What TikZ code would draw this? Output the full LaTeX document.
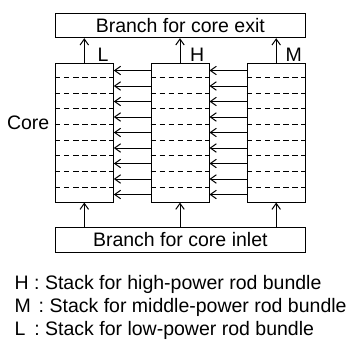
\documentclass[tikz,border=0pt]{standalone}
\usepackage{fontspec}
\setmainfont{Liberation Sans}
\usetikzlibrary{arrows.meta}
\begin{document}
\begin{tikzpicture}[x=1pt,y=-1pt,
  font=\fontsize{19.5}{23}\selectfont,
  box/.style={draw,line width=1pt,inner sep=0pt},
  stackbox/.style={draw,line width=1pt,minimum width=58pt,minimum height=138.7pt,inner sep=0pt},
  arr/.style={line width=1pt,-{Straight Barb[length=6pt,width=8.5pt,line width=1pt]}},
  dashline/.style={line width=1pt,dash pattern=on 5.5pt off 3.6pt},
  lbl/.style={inner sep=0pt,anchor=base west},
  every node/.style={inner sep=0pt}]
\path[use as bounding box] (0,0) rectangle (350,340);
% boxes
\node[box,minimum width=250pt,minimum height=24.4pt] (exit) at (180.3,25.5) {Branch for core exit};
\node[box,minimum width=250pt,minimum height=24.6pt] (inlet) at (180.3,240) {Branch for core inlet};
\node[stackbox] (L) at (84.3,132.7) {};
\node[stackbox] (H) at (180,132.7) {};
\node[stackbox] (M) at (276.2,132.7) {};
% dashed levels
\foreach \i in {0,...,7}{
  \coordinate (d\i) at (0,77.3+\i*15.7);
  \foreach \s in {L,H,M}{
    \draw[dashline] (\s.west |- d\i) -- (\s.east |- d\i);
  }
}
% cross-flow arrows
\foreach \i in {0,...,8}{
  \coordinate (a\i) at (0,70.5+\i*15.5);
  \draw[arr] (H.west |- a\i) -- (L.east |- a\i);
  \draw[arr] (M.west |- a\i) -- (H.east |- a\i);
}
% vertical arrows
\foreach \s in {L,H,M}{
  \draw[arr] (\s.north) -- (\s.north |- exit.south);
  \draw[arr] (\s.south |- inlet.north) -- (\s.south);
}
% labels
\node[lbl] (tL) at (97.3,61) {L};
\node[lbl] (tH) at (190,61) {H};
\node[lbl] (tM) at (285.3,61) {M};
\node[inner sep=0pt,anchor=base east] (core) at (49.5,129) {Core};
% legend
\node[lbl] (legH) at (14.5,289) {H : Stack for high-power rod bundle};
\node[lbl] (legM) at (14.5,312) {M\kern2.4pt\ : Stack for middle-power rod bundle};
\node[lbl] (legL) at (14.5,335) {L\kern3.4pt\ : Stack for low-power rod bundle};
\end{tikzpicture}
\end{document}
